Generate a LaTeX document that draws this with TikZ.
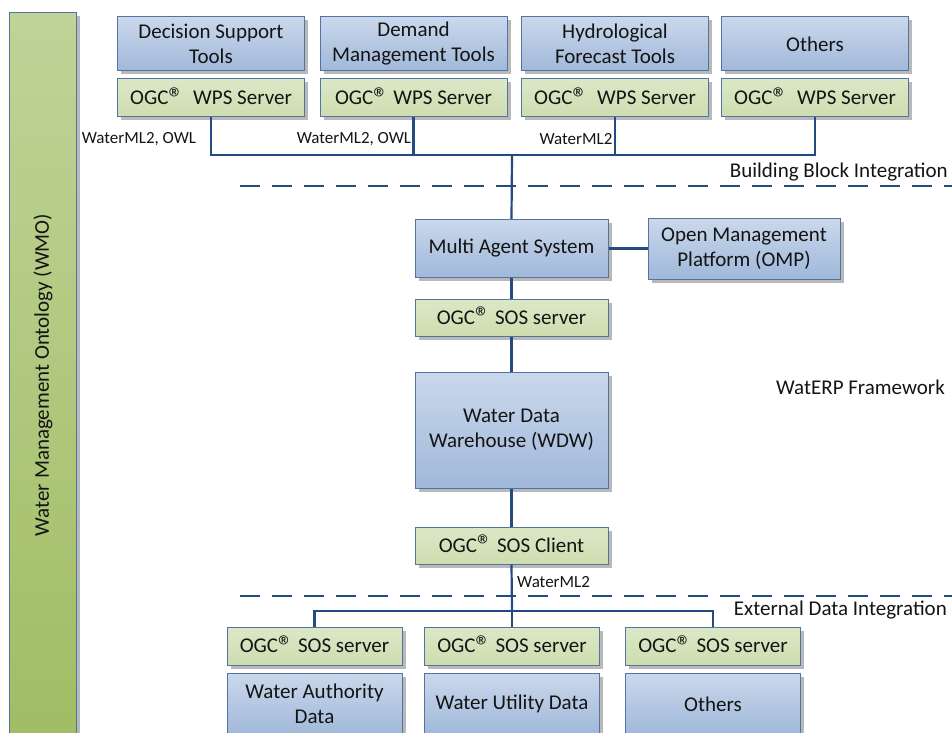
\documentclass[tikz,border=0pt]{standalone}
\usepackage{fontspec}
\setmainfont{Carlito}
\usepackage{tikz}
\usetikzlibrary{shadows}
\definecolor{myBlueT}{RGB}{202,216,235}
\definecolor{myBlueB}{RGB}{160,184,218}
\definecolor{myGreenT}{RGB}{219,232,199}
\definecolor{myGreenB}{RGB}{205,221,175}
\definecolor{myBarT}{RGB}{192,211,152}
\definecolor{myBarB}{RGB}{160,189,100}
\definecolor{myEdge}{RGB}{84,115,163}
\definecolor{myLine}{RGB}{35,75,130}
\definecolor{myText}{RGB}{20,20,20}
\newcommand{\ogcreg}{\raisebox{-3.5bp}{\fontsize{30bp}{30bp}\selectfont ®}}
\tikzset{
  box/.style={draw=myEdge, line width=1bp, align=center, inner sep=0pt, text=myText,
    font=\fontsize{21bp}{25bp}\selectfont,
    drop shadow={shadow xshift=3.5bp, shadow yshift=-3.5bp, fill=black!55, opacity=.5}},
  toolbox/.style={box, top color=myBlueT, bottom color=myBlueB},
  ogcbox/.style={box, top color=myGreenT, bottom color=myGreenB, minimum height=38bp},
  link/.style={myLine, line width=2.2bp},
  sepline/.style={myLine, line width=2.8bp, dash pattern=on 20bp off 12bp},
  lbl/.style={text=myText, font=\fontsize{17bp}{20bp}\selectfont, inner sep=0pt},
  area/.style={text=myText, font=\fontsize{21bp}{25bp}\selectfont, inner sep=0pt},
}

\begin{document}
\begin{tikzpicture}[x=1bp, y=-1bp]
  \useasboundingbox (0,0) rectangle (952,733);
  % Ontologie
  \node[box, top color=myBarT, bottom color=myBarB, minimum width=66bp, minimum height=727bp] (wmo) at (43,376.5) {};
  \node[area, rotate=90] (wmotext) at (43,375) {Water Management Ontology (WMO)};
  % Werkzeuge
  \foreach \n/\x/\t in {1/211/{Decision Support\\Tools}, 2/413.5/{Demand\\Management Tools},
                        3/615/{Hydrological\\Forecast Tools}, 4/815/{Others}} {
    \node[toolbox, minimum width=187bp, minimum height=54bp] (tool\n) at (\x,44) {\t};
  }
  \node[ogcbox, minimum width=187bp] (wps1) at (211,98) {OGC\ogcreg\ \ WPS Server};
  \node[ogcbox, minimum width=187bp] (wps2) at (413.5,98) {OGC\ogcreg\ WPS Server};
  \node[ogcbox, minimum width=187bp] (wps3) at (615,98) {OGC\ogcreg\ \ WPS Server};
  \node[ogcbox, minimum width=187bp] (wps4) at (815,98) {OGC\ogcreg\ \ WPS Server};
  % Kern
  \node[toolbox, minimum width=193bp, minimum height=58bp] (mas) at (511.5,248.5) {Multi Agent System};
  \node[toolbox, minimum width=192bp, minimum height=61bp] (omp) at (744,248.5) {Open Management\\Platform (OMP)};
  \node[ogcbox, minimum width=193bp, minimum height=37bp] (sos) at (511.5,317.5) {OGC\ogcreg\ SOS server};
  \node[toolbox, minimum width=193bp, minimum height=116bp] (wdw) at (511.5,430) {Water Data\\Warehouse (WDW)};
  \node[ogcbox, minimum width=193bp, minimum height=37bp] (client) at (511.5,545.5) {OGC\ogcreg\ SOS Client};
  % Externe Daten
  \foreach \n/\x/\t in {1/314.5/{Water Authority\\Data}, 2/512/{Water Utility Data}, 3/713/{Others}} {
    \node[ogcbox, minimum width=175bp] (srv\n) at (\x,646) {OGC\ogcreg\ SOS server};
    \node[toolbox, minimum width=175bp, minimum height=62bp] (data\n) at (\x,704) {\t};
  }
  % Verbindungen
  \coordinate (bus) at (512,155);
  \foreach \n in {1,...,4} {
    \draw[link] (wps\n.south) |- (bus);
  }
  \draw[link] (bus) -- (mas.north);
  \draw[link] (mas) -- (omp);
  \draw[link] (mas) -- (sos);
  \draw[link] (sos) -- (wdw);
  \draw[link] (wdw) -- (client);
  \coordinate (ext) at (512,611);
  \draw[link] (client.south) -- (ext);
  \foreach \n in {1,2,3} {
    \draw[link] (ext) -| (srv\n.north);
  }
  % Formate
  \node[lbl] (fmt1) at (139,139) {WaterML2, OWL};
  \node[lbl] (fmt2) at (354,139) {WaterML2, OWL};
  \node[lbl] (fmt3) at (576,139) {WaterML2};
  \node[lbl, anchor=west] (fmt4) at (517,582) {WaterML2};
  % Ebenen
  \draw[sepline] (240,186) -- (952,186);
  \draw[sepline] (240,596) -- (952,596);
  \node[area, anchor=east] (bbi) at (948,172) {Building Block Integration};
  \node[area, anchor=east] (frame) at (945,387) {WatERP Framework};
  \node[area, anchor=east] (edi) at (947,610) {External Data Integration};
\end{tikzpicture}
\end{document}
